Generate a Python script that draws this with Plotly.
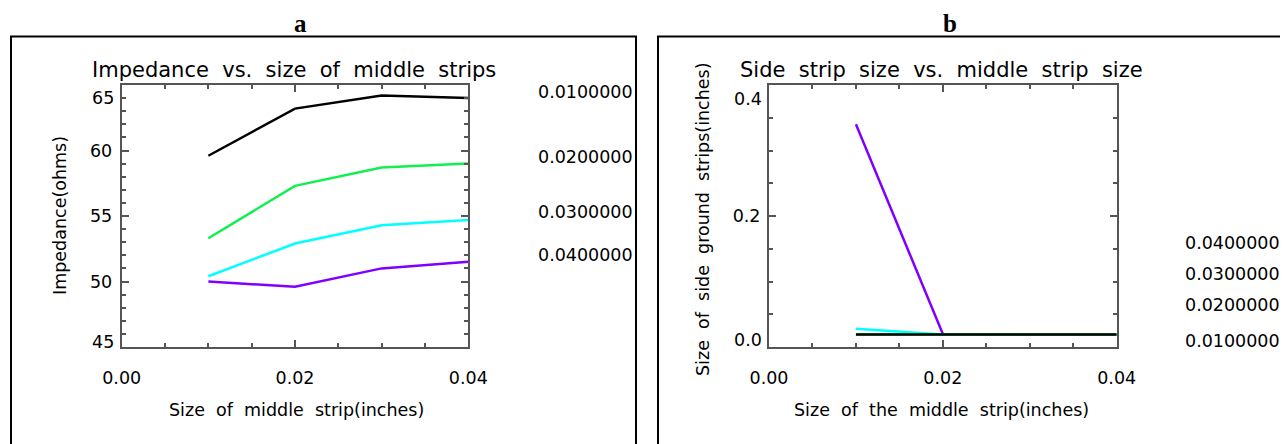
import plotly.graph_objects as go

# ---- data ----
middle_strip = [0.01, 0.02, 0.03, 0.04]
series_labels = ["0.0100000", "0.0200000", "0.0300000", "0.0400000"]
series_colors = ["#000000", "#10F050", "#00FFFF", "#7F00FF"]

impedance = {
    "0.0100000": [59.6, 63.2, 64.2, 64.0],
    "0.0200000": [53.3, 57.3, 58.7, 59.0],
    "0.0300000": [50.4, 52.9, 54.3, 54.7],
    "0.0400000": [50.0, 49.6, 51.0, 51.5],
}
side_strip = {
    "0.0100000": [0.019, 0.019, 0.019, 0.019],
    "0.0200000": [0.019, 0.019, 0.019, 0.019],
    "0.0300000": [0.028, 0.019, 0.019, 0.019],
    "0.0400000": [0.340, 0.020, 0.019, 0.019],
}

imp_ticks = [45, 50, 55, 60, 65]
imp_ticktext = ["45", "50", "55", "60", "65"]
side_ticks = [0.0, 0.2, 0.4]
side_ticktext = ["0.0", "0.2", "0.4"]
x_ticks = [0.0, 0.02, 0.04]
x_ticktext = ["0.00", "0.02", "0.04"]

W, H = 1288, 444
OFF = 8  # page body margin
FONT = "DejaVu Sans"
TICKFS = 17.5


def px(x):
    return (x - OFF) / W


def py(y):
    return 1 - (y - OFF) / H


def spaced(s):
    return s.replace(" ", " &nbsp;")


fig = go.Figure()

# panel a traces
for lab, col in zip(series_labels, series_colors):
    fig.add_trace(go.Scatter(x=middle_strip, y=impedance[lab], mode="lines",
                             line=dict(color=col, width=2.5), name=lab,
                             xaxis="x", yaxis="y", showlegend=False))
# panel b traces (black drawn last)
for lab, col in reversed(list(zip(series_labels, series_colors))):
    fig.add_trace(go.Scatter(x=middle_strip, y=side_strip[lab], mode="lines",
                             line=dict(color=col, width=2.5), name=lab,
                             xaxis="x2", yaxis="y2", showlegend=False))

axis_common = dict(
    showgrid=False, zeroline=False, showline=True, linecolor="#555555", linewidth=2,
    mirror="allticks", ticks="inside", ticklen=7, tickwidth=1.5, tickcolor="#555555",
    tickfont=dict(family=FONT, size=TICKFS, color="#000000"), automargin=False,
)

xa = dict(axis_common, range=[0, 0.04], tickvals=x_ticks, ticktext=x_ticktext, ticklabelstandoff=14,
          minor=dict(dtick=0.005, ticks="inside", ticklen=4, tickcolor="#555555", showgrid=False))

# end labels of the y axes sit slightly inside the frame (as in the reference)
imp_inner = ["" if i in (0, len(imp_ticks) - 1) else t for i, t in enumerate(imp_ticktext)]
side_inner = ["" if i in (0, len(side_ticks) - 1) else t for i, t in enumerate(side_ticktext)]

fig.update_layout(
    template="none",
    width=W, height=H, margin=dict(l=0, r=0, t=0, b=0, autoexpand=False),
    paper_bgcolor="white", plot_bgcolor="white",
    xaxis=dict(xa, domain=[px(121.7), px(468.3)], anchor="y"),
    yaxis=dict(axis_common, domain=[py(347), py(85)], anchor="x", range=[imp_ticks[0], imp_ticks[-1]],
               tickvals=imp_ticks, ticktext=imp_inner, ticklabelstandoff=4,
               minor=dict(dtick=1, ticks="inside", ticklen=4, tickcolor="#555555", showgrid=False)),
    xaxis2=dict(xa, domain=[px(769), px(1116.7)], anchor="y2"),
    yaxis2=dict(axis_common, domain=[py(347), py(85)], anchor="x2", range=[side_ticks[0], side_ticks[-1]],
                tickvals=side_ticks, ticktext=side_inner, ticklabelstandoff=3,
                minor=dict(dtick=0.05, ticks="inside", ticklen=4, tickcolor="#555555", showgrid=False)),
)

# outer boxes
for x0, x1 in [(11, 636), (658, 1283)]:
    fig.add_shape(type="rect", xref="paper", yref="paper",
                  x0=px(x0), x1=px(x1), y0=py(470), y1=py(36.5),
                  line=dict(color="black", width=2), fillcolor="rgba(0,0,0,0)", layer="below")

ann = []


def text(x, y, s, size, xanchor="center", textangle=0, family=FONT, bold=False):
    ann.append(dict(x=px(x), y=py(y), xref="paper", yref="paper", text=("<b>%s</b>" % s if bold else s),
                    showarrow=False, xanchor=xanchor, yanchor="middle", textangle=textangle,
                    font=dict(family=family, size=size, color="black")))


def end_label(xdom, yref, val, s, shift, xs):
    ann.append(dict(x=xdom, y=val, xref="paper", yref=yref, text=s, showarrow=False,
                    xanchor="right", yanchor="middle", yshift=shift, xshift=xs,
                    font=dict(family=FONT, size=TICKFS, color="black")))


end_label(px(121.7), "y", imp_ticks[-1], imp_ticktext[-1], -13, -6)
end_label(px(121.7), "y", imp_ticks[0], imp_ticktext[0], 5, -6)
end_label(px(769), "y2", side_ticks[-1], side_ticktext[-1], -14, -5)
end_label(px(769), "y2", side_ticks[0], side_ticktext[0], 7, -5)

# panel letters
text(300, 24, "a", 25, family="Liberation Serif", bold=True)
text(950, 24, "b", 25, family="Liberation Serif", bold=True)
# plot titles
text(294, 70, spaced("Impedance vs. size of middle strips"), 21)
text(942, 70, spaced("Side strip size vs. middle strip size"), 21)
# axis titles
text(296, 410, spaced("Size of middle strip(inches)"), 17.5)
text(942, 410, spaced("Size of the middle strip(inches)"), 17.5)
text(60, 216, "Impedance(ohms)", 17.5, textangle=-90)
text(703, 219, spaced("Size of side ground strips(inches)"), 17.5, textangle=-90)
# series labels
for lab, y in zip(series_labels, [92, 157, 212, 255]):
    text(536, y, lab, 17.5, xanchor="left")
for lab, y in zip(series_labels, [341, 305, 274, 243]):
    text(1183, y, lab, 17.5, xanchor="left")

fig.update_layout(annotations=ann)
fig.write_html("out.html")
